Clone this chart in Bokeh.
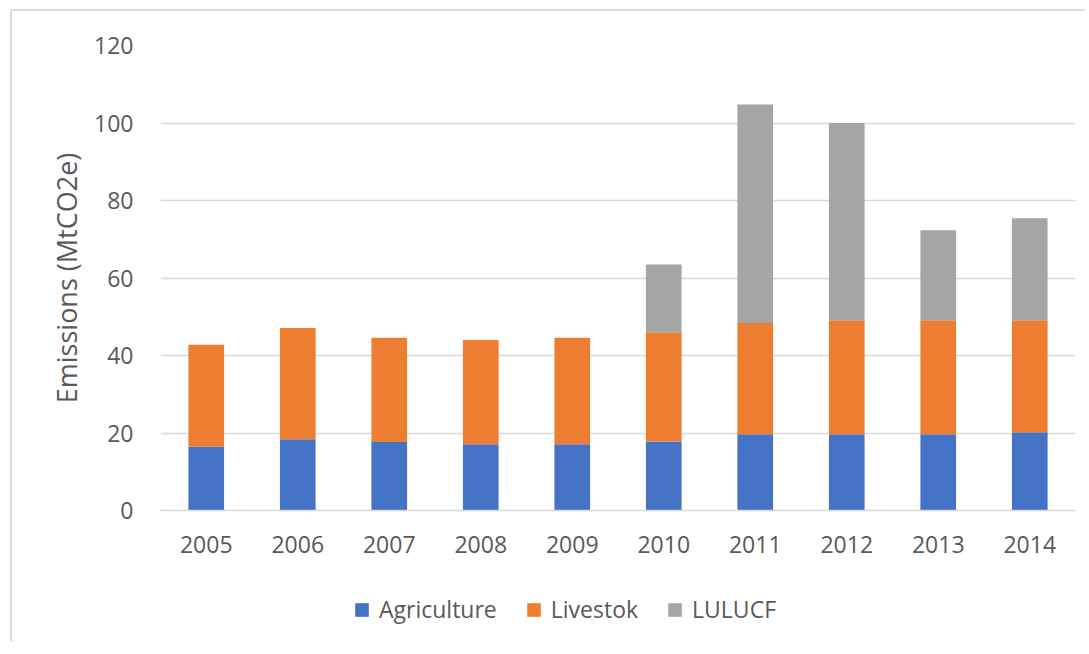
from bokeh.plotting import figure
from bokeh.layouts import column
from bokeh.models import Range1d, FactorRange, Legend, LegendItem
from bokeh.embed import file_html
from bokeh.resources import INLINE

years = ["2005", "2006", "2007", "2008", "2009", "2010", "2011", "2012", "2013", "2014"]
agriculture = [16.5, 18.4, 17.7, 17.1, 17.1, 17.8, 19.7, 19.7, 19.7, 20.2]
livestock_total = [42.8, 47.1, 44.6, 44.0, 44.6, 46.0, 48.4, 49.1, 49.1, 49.1]
lulucf_total = [42.8, 47.1, 44.6, 44.0, 44.6, 63.5, 104.8, 100.0, 72.3, 75.4]
livestok = [round(l - a, 2) for l, a in zip(livestock_total, agriculture)]
lulucf = [round(t - l, 2) for t, l in zip(lulucf_total, livestock_total)]
series = ["Agriculture", "Livestok", "LULUCF"]
colors = ["#4472C4", "#ED7D31", "#A5A5A5"]
y_ticks = [0, 20, 40, 60, 80, 100, 120]

FONT = "Open Sans"
TXT = "#595959"

data = {"years": years, "Agriculture": agriculture, "Livestok": livestok, "LULUCF": lulucf}

p = figure(x_range=FactorRange(*years, range_padding=0), y_range=Range1d(0, 120),
           width=1073, height=560, output_backend="svg", toolbar_location=None,
           min_border_left=148, min_border_right=10, min_border_top=34, min_border_bottom=61)
p.vbar_stack(series, x="years", width=0.39, color=colors, source=data, line_color=None)

p.outline_line_color = None
p.background_fill_color = "white"
p.border_fill_color = "white"

p.xgrid.grid_line_color = None
p.ygrid.grid_line_color = "#d9d9d9"
p.ygrid.grid_line_width = 1.5

p.yaxis.ticker = y_ticks
p.yaxis.axis_line_color = None
p.yaxis.major_tick_line_color = None
p.yaxis.minor_tick_line_color = None
p.yaxis.major_label_standoff = 21
p.yaxis.major_label_text_font = FONT
p.yaxis.major_label_text_font_size = "23px"
p.yaxis.major_label_text_color = TXT
p.yaxis.axis_label = "Emissions (MtCO2e)"
p.yaxis.axis_label_text_font = FONT
p.yaxis.axis_label_text_font_size = "27px"
p.yaxis.axis_label_text_font_style = "normal"
p.yaxis.axis_label_text_color = TXT
p.yaxis.axis_label_standoff = 6

p.xaxis.axis_line_color = "#d9d9d9"
p.xaxis.axis_line_width = 1.5
p.xaxis.major_tick_line_color = None
p.xaxis.minor_tick_line_color = None
p.xaxis.major_label_standoff = 19
p.xaxis.major_label_text_font = FONT
p.xaxis.major_label_text_font_size = "23px"
p.xaxis.major_label_text_color = TXT

# legend strip: same stacked series, renderers hidden so only the legend shows
q = figure(x_range=p.x_range, y_range=Range1d(-2, -1), width=1073, height=70,
           output_backend="svg", toolbar_location=None,
           x_axis_location=None, y_axis_location=None,
           min_border_left=148, min_border_right=10, min_border_top=0, min_border_bottom=0)
q.grid.visible = False
q.outline_line_color = None
q.border_fill_color = "white"
q.background_fill_color = "white"
swatches = q.vbar_stack(series, x="years", width=0.39, color=colors, source=data, line_color=None)
for r in swatches:
    r.visible = False
legend = Legend(items=[LegendItem(label=s, renderers=[r]) for s, r in zip(series, swatches)],
                orientation="horizontal", location=(193, 16), click_policy="none",
                glyph_width=17, glyph_height=17, label_standoff=9, spacing=28,
                padding=0, margin=0, border_line_color=None, background_fill_alpha=0,
                label_text_font=FONT, label_text_font_size="23px", label_text_color=TXT)
q.add_layout(legend, "center")

layout = column(p, q, spacing=0)
layout.margin = (9, 0, 0, 10)
layout.styles = {"border-top": "2px solid #dcdcdc", "border-left": "2px solid #dcdcdc"}

open("out.html", "w").write(file_html(layout, INLINE))
